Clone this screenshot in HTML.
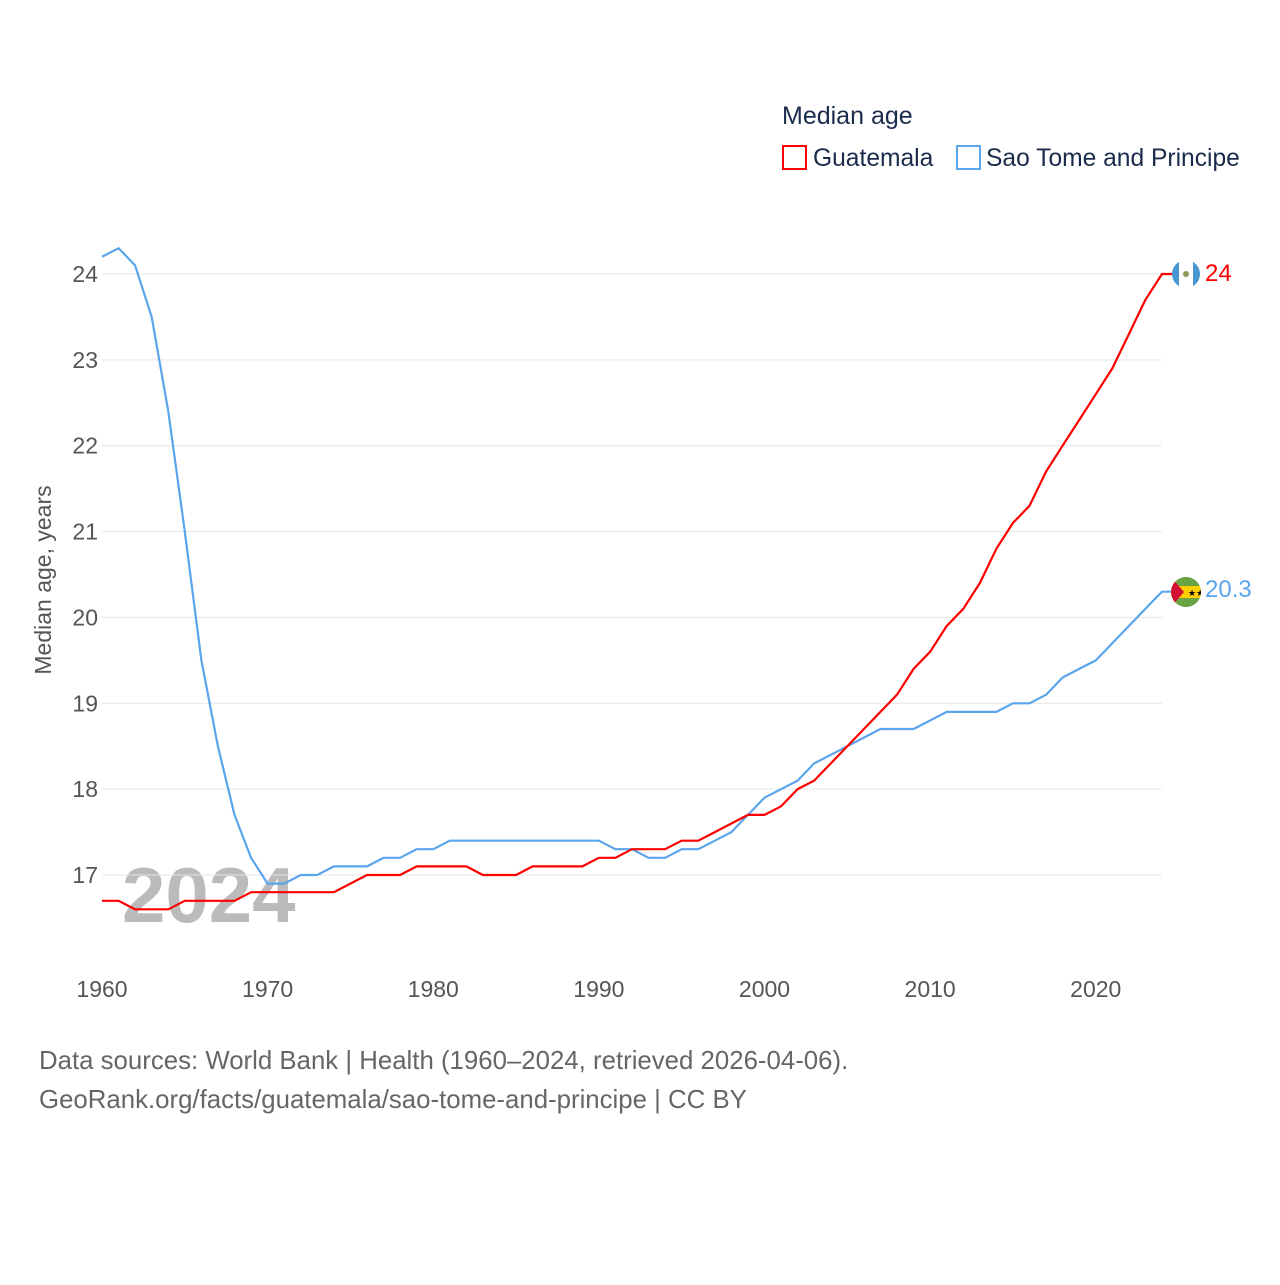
<!DOCTYPE html>
<html><head><meta charset="utf-8"><style>
body{margin:0;background:#fff;width:1280px;height:1280px;overflow:hidden;font-family:"Liberation Sans",sans-serif}
</style></head><body>
<svg id="chart" width="1280" height="1280">
<text x="782" y="124" font-size="25" fill="#1a2b4c">Median age</text>
<rect x="783" y="146" width="23" height="23" fill="none" stroke="#f00" stroke-width="2"/>
<text x="813" y="166" font-size="24.6" fill="#1a2b4c">Guatemala</text>
<rect x="957" y="146" width="23" height="23" fill="none" stroke="#5aa5ec" stroke-width="2"/>
<text x="986" y="166" font-size="24.6" fill="#1a2b4c">Sao Tome and Principe</text>
<text transform="translate(51,580) rotate(-90)" text-anchor="middle" font-size="23" fill="#555">Median age, years</text>
<text x="122" y="922" font-size="78" font-weight="bold" fill="#bbb">2024</text>
<g id="grid"></g><g id="lines"></g>
<g>
<circle cx="1186" cy="274" r="14" fill="#4997d0"/><rect x="1179" y="260" width="14" height="28" fill="#fff"/><circle cx="1186" cy="274" r="3" fill="#8a9a5b"/></g>
<text x="1205" y="281" font-size="24" fill="#f00">24</text>
<g>
<clipPath id="cp"><circle cx="1186" cy="592" r="15"/></clipPath>
<g clip-path="url(#cp)"><rect x="1171" y="577" width="30" height="30" fill="#6aa341"/><rect x="1171" y="586" width="30" height="12" fill="#ffce00"/><polygon points="1171,577 1184,592 1171,607" fill="#d21034"/><text x="1188" y="596" font-size="9" fill="#000">★★</text></g></g>
<text x="1205" y="597" font-size="24" fill="#5aa5ec">20.3</text>
<text x="39" y="1069" font-size="25.8" fill="#666">Data sources: World Bank | Health (1960–2024, retrieved 2026-04-06).</text>
<text x="39" y="1108" font-size="25.8" fill="#666">GeoRank.org/facts/guatemala/sao-tome-and-principe | CC BY</text>
</svg>
<script>
const years=[];for(let y=1960;y<=2024;y++)years.push(y);
const guatemala=[16.7,16.7,16.6,16.6,16.6,16.7,16.7,16.7,16.7,16.8,16.8,16.8,16.8,16.8,16.8,16.9,17.0,17.0,17.0,17.1,17.1,17.1,17.1,17.0,17.0,17.0,17.1,17.1,17.1,17.1,17.2,17.2,17.3,17.3,17.3,17.4,17.4,17.5,17.6,17.7,17.7,17.8,18.0,18.1,18.3,18.5,18.7,18.9,19.1,19.4,19.6,19.9,20.1,20.4,20.8,21.1,21.3,21.7,22.0,22.3,22.6,22.9,23.3,23.7,24.0];
const saoTome=[24.2,24.3,24.1,23.5,22.4,21.0,19.5,18.5,17.7,17.2,16.9,16.9,17.0,17.0,17.1,17.1,17.1,17.2,17.2,17.3,17.3,17.4,17.4,17.4,17.4,17.4,17.4,17.4,17.4,17.4,17.4,17.3,17.3,17.2,17.2,17.3,17.3,17.4,17.5,17.7,17.9,18.0,18.1,18.3,18.4,18.5,18.6,18.7,18.7,18.7,18.8,18.9,18.9,18.9,18.9,19.0,19.0,19.1,19.3,19.4,19.5,19.7,19.9,20.1,20.3];
const yTicks=[17,18,19,20,21,22,23,24];
const xTicks=[1960,1970,1980,1990,2000,2010,2020];
const X=v=>102+(v-1960)*(1162-102)/64;
const Y=v=>875-(v-17)*(875-274)/7;
const NS="http://www.w3.org/2000/svg";
const grid=document.getElementById('grid'),lines=document.getElementById('lines');
function mk(tag,attrs,parent,txt){const e=document.createElementNS(NS,tag);for(const k in attrs)e.setAttribute(k,attrs[k]);if(txt!==undefined)e.textContent=txt;parent.appendChild(e);return e;}
yTicks.forEach(t=>{
 const l=mk('line',{x1:102,x2:1162,y1:Y(t),y2:Y(t),stroke:'#e6e6e6','stroke-width':1},grid);
 
 
 const tx=mk('text',{x:98,y:Y(t)+8,'text-anchor':'end','font-size':23,fill:'#555'},grid,String(t));
 
 
});
xTicks.forEach(t=>{
 const tx=mk('text',{x:X(t),y:997,'text-anchor':'middle','font-size':23,fill:'#555'},grid,String(t));
 
 
});
function line(vals,color,name){
 let d=vals.map((v,i)=>(i?'L':'M')+X(years[i]).toFixed(1)+','+Y(v).toFixed(1)).join('');
 d+='L1172,'+Y(vals[vals.length-1]).toFixed(1);
 const p=mk('path',{d:d,fill:'none',stroke:color,'stroke-width':2.2,'stroke-linejoin':'round'},lines);
 
 
}
line(saoTome,'#5aa5ec','line-sao-tome');
line(guatemala,'#f00','line-guatemala');
</script>
</body></html>
